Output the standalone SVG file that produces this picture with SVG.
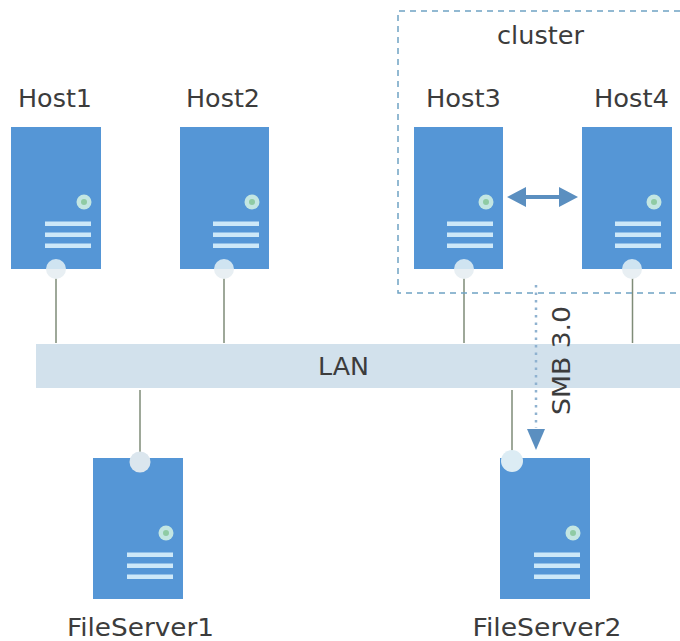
<svg xmlns="http://www.w3.org/2000/svg" width="680" height="641" viewBox="0 0 680 641">
<style>
text{font-family:"DejaVu Sans",sans-serif;font-size:24.500px;fill:#3c3c3c}
.body{fill:#5596d6}
.port{fill:#cfe4f1}
.portlow{fill:#e8eff3}
.led{fill:#c3e6e2;stroke:none}
.dot{fill:#8fcba4}
.bar{fill:#cde8f8}
.wire{stroke:#7f8c78;stroke-width:1.500;fill:none}
</style>
<defs>
<g id="panel">
<circle class="led" cx="73" cy="75" r="7.500"/><circle class="dot" cx="73" cy="75" r="3"/>
<rect class="bar" x="34" y="94.500" width="46" height="4.500"/><rect class="bar" x="34" y="105.500" width="46" height="4.500"/><rect class="bar" x="34" y="116.500" width="46" height="4.500"/>
</g>
<g id="hostport"><path class="portlow" d="M-10 0A10 10 0 0 0 10 0Z"/><path class="port" d="M-10 0A10 10 0 0 1 10 0Z"/></g>
</defs>
<rect id="lan-bar" x="36" y="344" width="644" height="44" fill="#d2e1ec"/>
<g id="connectors">
<path class="wire" d="M56 278V343M224 278V343M464 278V343M632.500 278V343M140 390V452M512 390V452"/>
<path d="M507 197L526 187V195H559V187L578 197L559 207V199H526V207Z" fill="#5b8fc0"/>
<path d="M536 285V428" stroke="#8fb2d0" stroke-width="2.500" stroke-dasharray="2.500 5" fill="none"/>
<path d="M527 429H545L536 450Z" fill="#5b8fc0"/>
</g>
<g id="cluster"><path d="M680 11H398V293H680" fill="none" stroke="#6fa3c4" stroke-width="1.500" stroke-dasharray="6 5"/><text x="540.500" y="44" text-anchor="middle" textLength="87" lengthAdjust="spacingAndGlyphs">cluster</text></g>
<g id="host1"><rect class="body" x="11" y="127" width="90" height="142"/><use href="#hostport" x="56" y="269"/><use href="#panel" x="11" y="127"/><text x="55" y="107" text-anchor="middle" textLength="74" lengthAdjust="spacingAndGlyphs">Host1</text></g>
<g id="host2"><rect class="body" x="180" y="127" width="89" height="142"/><use href="#hostport" x="224" y="269"/><use href="#panel" x="179" y="127"/><text x="223" y="107" text-anchor="middle" textLength="74" lengthAdjust="spacingAndGlyphs">Host2</text></g>
<g id="host3"><rect class="body" x="414" y="127" width="89" height="142"/><use href="#hostport" x="464" y="269"/><use href="#panel" x="413" y="127"/><text x="463.500" y="107" text-anchor="middle" textLength="75" lengthAdjust="spacingAndGlyphs">Host3</text></g>
<g id="host4"><rect class="body" x="582" y="127" width="90" height="142"/><use href="#hostport" x="632" y="269"/><use href="#panel" x="581" y="127"/><text x="631.500" y="107" text-anchor="middle" textLength="75" lengthAdjust="spacingAndGlyphs">Host4</text></g>
<g id="lan"><text x="343.500" y="375" text-anchor="middle" textLength="51" lengthAdjust="spacingAndGlyphs">LAN</text></g>
<g id="fileserver1"><rect class="body" x="93" y="458" width="90" height="141"/><circle cx="140" cy="462" r="10.500" fill="#dbe6ee"/><use href="#panel" x="93" y="458"/><text x="140.500" y="636" text-anchor="middle" textLength="147" lengthAdjust="spacingAndGlyphs">FileServer1</text></g>
<g id="fileserver2"><rect class="body" x="500" y="458" width="90" height="141"/><circle cx="512" cy="461" r="11" fill="#dcecf4"/><use href="#panel" x="500" y="458"/><text x="547" y="636" text-anchor="middle" textLength="149" lengthAdjust="spacingAndGlyphs">FileServer2</text></g>
<text x="570" y="360.500" text-anchor="middle" transform="rotate(-90 570 360.500)" textLength="109" lengthAdjust="spacingAndGlyphs">SMB 3.0</text>
</svg>
